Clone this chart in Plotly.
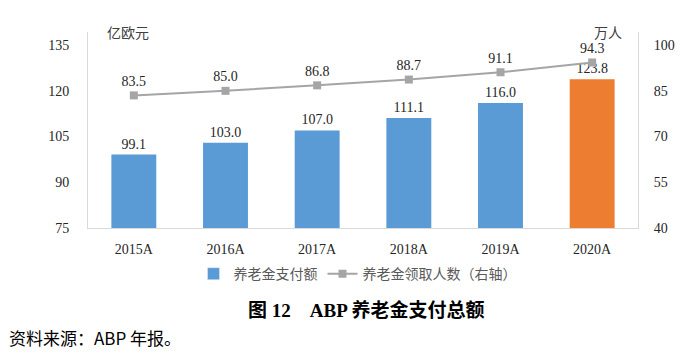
import plotly.graph_objects as go

categories = ["2015A", "2016A", "2017A", "2018A", "2019A", "2020A"]
payout = [99.1, 103.0, 107.0, 111.1, 116.0, 123.8]
recipients = [83.5, 85.0, 86.8, 88.7, 91.1, 94.3]
bar_colors = ["#5B9BD5"] * 5 + ["#ED7D31"]
left_ticks = [75, 90, 105, 120, 135]
right_ticks = [40, 55, 70, 85, 100]

num_font = dict(family="Liberation Serif, Times New Roman, serif", size=14, color="#262626")
cjk_font = "Noto Sans CJK SC"

fig = go.Figure()
fig.add_trace(go.Bar(
    x=categories, y=payout, name="养老金支付额",
    marker=dict(color=bar_colors, line=dict(width=0)),
    width=0.49,
    text=[f"{v:.1f}" for v in payout], textposition="outside",
    textfont=num_font, cliponaxis=False,
    showlegend=False,
))
# legend entry for the bar series (blue)
fig.add_trace(go.Bar(
    x=[None], y=[None], name="养老金支付额",
    marker=dict(color="#5B9BD5"), showlegend=True,
))
fig.add_trace(go.Scatter(
    x=categories, y=recipients, name="养老金领取人数（右轴）", yaxis="y2",
    mode="lines+markers+text",
    line=dict(color="#A5A5A5", width=2),
    marker=dict(symbol="square", size=8, color="#A5A5A5"),
    text=[f"{v:.1f}" for v in recipients], textposition="top center",
    textfont=num_font, cliponaxis=False,
))

fig.update_layout(
    width=700, height=353,
    margin=dict(l=88, r=62, t=32, b=125),
    paper_bgcolor="white", plot_bgcolor="white",
    bargap=0.51,
    xaxis=dict(
        showgrid=False, showline=True, linecolor="#D9D9D9", linewidth=1,
        ticks="", tickfont=num_font, ticklabelstandoff=8,
    ),
    yaxis=dict(
        range=[75, 139.3], tickvals=left_ticks, showgrid=False,
        showline=True, linecolor="#D9D9D9", linewidth=1, zeroline=False,
        ticks="", tickfont=num_font, ticklabelstandoff=15,
    ),
    yaxis2=dict(
        range=[40, 104.3], tickvals=right_ticks, overlaying="y", side="right",
        showgrid=False, showline=True, linecolor="#D9D9D9", linewidth=1,
        zeroline=False, ticks="", tickfont=num_font, ticklabelstandoff=12,
    ),
    legend=dict(
        orientation="h", x=0.49, xanchor="center", y=-0.235, yanchor="middle",
        font=dict(family=cjk_font, size=14, color="#595959"),
        traceorder="normal",
    ),
    showlegend=True,
    annotations=[
        dict(text="亿欧元", xref="paper", yref="paper", x=0.03, y=1.0,
             xanchor="left", yanchor="middle", showarrow=False,
             font=dict(family=cjk_font, size=14, color="#404040")),
        dict(text="万人", xref="paper", yref="paper", x=0.945, y=1.0,
             xanchor="center", yanchor="middle", showarrow=False,
             font=dict(family=cjk_font, size=14, color="#404040")),
        dict(text="<b>图 12</b>    <b>ABP 养老金支付总额</b>", xref="paper", yref="paper",
             x=0.505, y=-0.418, xanchor="center", yanchor="middle", showarrow=False,
             font=dict(family="Liberation Serif, " + cjk_font, size=19, color="#000000")),
        dict(text="资料来源：ABP 年报。", xref="paper", yref="paper",
             x=-0.148, y=-0.561, xanchor="left", yanchor="middle", showarrow=False,
             font=dict(family=cjk_font, size=17, color="#000000")),
    ],
)

fig.write_html("out.html")
